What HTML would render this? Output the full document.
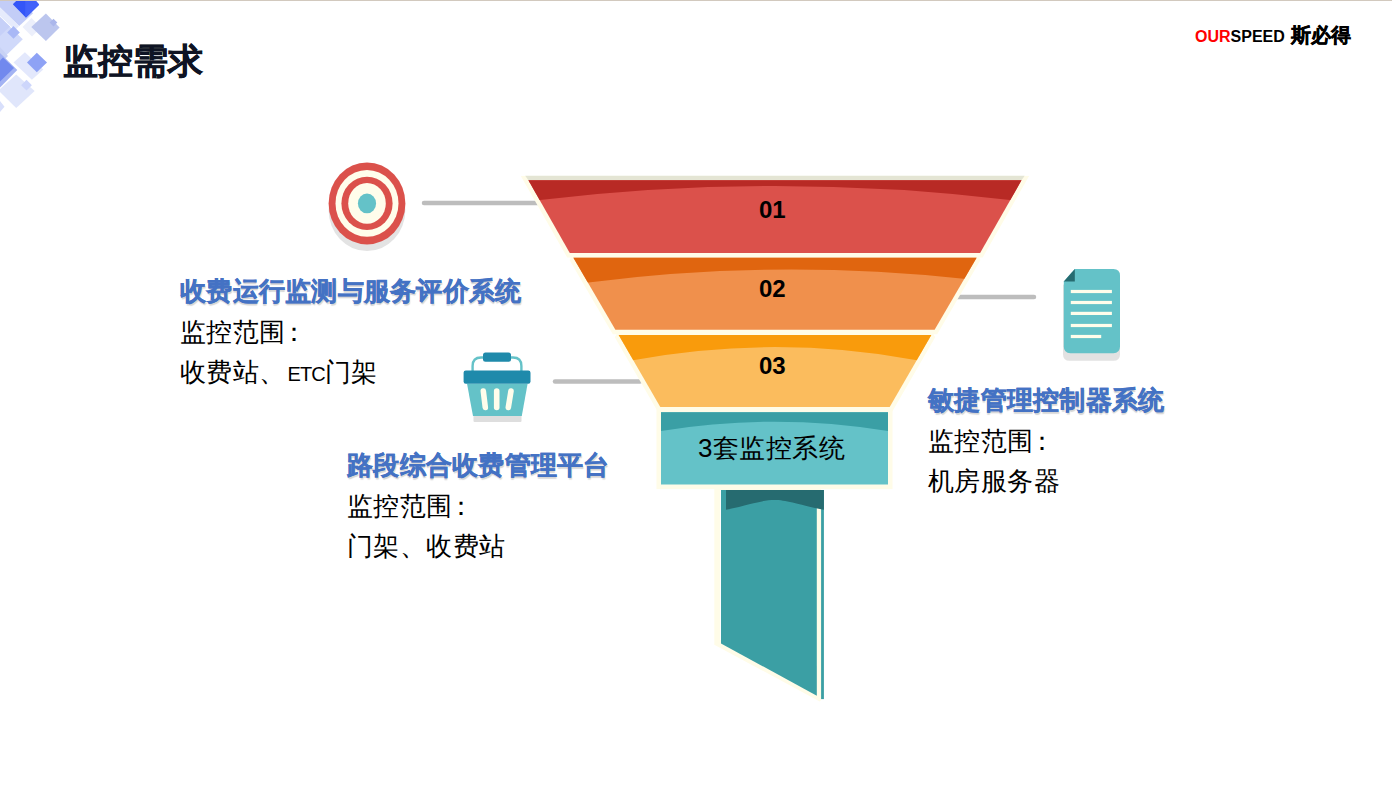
<!DOCTYPE html>
<html><head><meta charset="utf-8">
<style>
html,body{margin:0;padding:0;background:#fff;}
body{width:1392px;height:785px;position:relative;overflow:hidden;font-family:"Liberation Sans",sans-serif;}
.abs{position:absolute;white-space:nowrap;}
.topline{position:absolute;left:0;top:0;width:1392px;height:1px;background:#d2c9be;}
.title{left:63px;top:40px;font-size:35px;font-weight:bold;color:#0f1424;line-height:42px;-webkit-text-stroke:0.5px #0f1424;letter-spacing:0px;}
.logo{left:1195px;top:22px;font-size:16px;font-weight:bold;line-height:26px;color:#000;}
.logo .r{color:#f00;}
.logo .cn{font-size:20px;margin-left:2px;-webkit-text-stroke:0.4px #000;}
.h{font-size:26px;font-weight:bold;letter-spacing:0.25px;color:#4472c4;-webkit-text-stroke:0.35px #4472c4;text-shadow:0.5px 1.5px 1px rgba(0,0,0,0.17);line-height:30px;}
.t{font-size:26px;color:#000;line-height:30px;letter-spacing:0.4px;}
.num{font-size:24px;font-weight:bold;color:#000;line-height:28px;}
</style></head><body>

<svg class="abs" style="left:0;top:0" width="1392" height="785" viewBox="0 0 1392 785">
  <!-- decoration -->
  <g>
    <polygon points="0,0 20,0 33,13.2 19.2,26 0,7.5" fill="#c3cdf7"/>
    <polygon points="0,7.5 19.2,26 15,30 0,16" fill="#e6ebfc"/>
    <polygon points="0,17 22.8,39.3 4.5,57 0,57" fill="#d0d9fa"/>
    <polygon points="0,17 10,26.5 0,36" fill="#c6d0f8"/>
    <polygon points="13.8,4.3 25.8,16.6 38.1,4.6 35,1 17.2,1" fill="#3456f8" stroke="#3456f8" stroke-width="1.5" stroke-linejoin="round"/>
    <polygon points="26,10 25.8,16.6 38.1,4.6 35,1 26,1" fill="#4262fa" stroke="#4262fa" stroke-width="1.5" stroke-linejoin="round"/>
    <polygon points="22.5,27 31.5,18 41,27.5 32,36.5" fill="#eceffb"/>
    <polygon points="31.3,27.1 45.9,13.5 59.6,27.5 45.9,41" fill="#bcc6ee"/>
    <polygon points="49.7,22.6 53.5,18.8 57.3,22.6 53.5,26.4" fill="#abb7eb"/>
    <polygon points="7.2,32.4 13.5,26.1 19.8,32.4 13.5,38.7" fill="#a9b8f6"/>
    <polygon points="0,47 8,56 0,64" fill="#c8d2f5"/>
    <polygon points="13.5,62.5 24.9,52.2 43.3,69.5 31.9,79.8" fill="#e3e8fc"/>
    <polygon points="27,62.5 36.8,52.7 47,62.5 36.8,72.2" fill="#8ea2f5"/>
    <polygon points="0,53 17.3,70 0,87.4" fill="#a3b3f3"/>
    <polygon points="3,57.5 14,68 0,81.5 0,60.5" fill="#7189ee"/>
    <polygon points="16.2,74.4 34.6,91.1 16.2,108 0,92 0,89" fill="#e0e6fb"/>
    <polygon points="21.1,85.2 26.5,79.8 31.9,85.2 26.5,90.6" fill="#cdd6fb"/>
    <polygon points="0,101 4.5,106.8 0,112" fill="#d8dffb"/>
  </g>

  <!-- connector lines -->
  <line x1="424" y1="203" x2="540" y2="203" stroke="#bdbdbd" stroke-width="4.5" stroke-linecap="round"/>
  <line x1="950" y1="297" x2="1034" y2="297" stroke="#bdbdbd" stroke-width="4.5" stroke-linecap="round"/>
  <line x1="555" y1="381.4" x2="640" y2="381.4" stroke="#bdbdbd" stroke-width="4.5" stroke-linecap="round"/>

  <!-- funnel cream outline -->
  <g fill="#fffce8" stroke="#fffce8" stroke-width="9" stroke-linejoin="miter" stroke-miterlimit="2">
    <polygon points="528.4,180.3 1021.5,180.3 980.1,252.9 569.8,252.9"/>
    <polygon points="573.4,257.7 976.6,257.7 934.6,329.7 615.4,329.7"/>
    <polygon points="618.7,335.1 931.3,335.1 889.7,407 660.3,407"/>
    </g>
  <rect x="661" y="412.2" width="227" height="72.4" fill="#fffce8" stroke="#fffce8" stroke-width="9" stroke-linejoin="miter"/>
  <rect x="500" y="150" width="560" height="25.8" fill="#ffffff"/>
  <polygon points="525.2,175.8 1024.7,175.8 1021.5,180.3 528.4,180.3" fill="#e4e5d4"/>
  <!-- ribbon outline -->
  <polygon points="714.3,488.5 821.1,488.5 821.1,700 819.7,701.4 714.3,644.7" fill="#fffce8"/>
  <rect x="720" y="489.9" width="1" height="150" fill="#ffffff"/>

  <defs>
    <clipPath id="s1"><polygon points="528.4,180.3 1021.5,180.3 980.1,252.9 569.8,252.9"/></clipPath>
    <clipPath id="s2"><polygon points="573.4,257.7 976.6,257.7 934.6,329.7 615.4,329.7"/></clipPath>
    <clipPath id="s3"><polygon points="618.7,335.1 931.3,335.1 889.7,407 660.3,407"/></clipPath>
    <clipPath id="s4"><rect x="661" y="412.2" width="227" height="72.4"/></clipPath>
  </defs>
  <g clip-path="url(#s1)">
    <rect x="500" y="170" width="560" height="100" fill="#db514b"/>
    <path d="M500,170 H1060 V205 L1010,200 Q775,172 540,200 L500,205 Z" fill="#b82a25"/>
  </g>
  <g clip-path="url(#s2)">
    <rect x="500" y="250" width="560" height="100" fill="#f0904c"/>
    <path d="M500,250 H1060 V284 L963.6,278.7 Q775,258.6 588.4,282.4 L500,288 Z" fill="#e0650f"/>
  </g>
  <g clip-path="url(#s3)">
    <rect x="500" y="330" width="560" height="100" fill="#fbbc5d"/>
    <path d="M500,330 H1060 V364 L917,360.2 Q775,334 633,360.2 L500,364 Z" fill="#f99b0c"/>
  </g>
  <g clip-path="url(#s4)">
    <rect x="600" y="400" width="340" height="100" fill="#64c2c8"/>
    <path d="M600,400 H940 V432 L888,431 Q775,412.4 661,431 L600,432 Z" fill="#3a9fa5"/>
  </g>
  <!-- ribbon -->
  <polygon points="721,490 816.8,490 816.8,695.7 721,643.5" fill="#3b9fa4"/>
  <rect x="821.1" y="490" width="2.8" height="209.1" fill="#3b9fa4"/>
  <path d="M726,490 H823.9 V509.8 C795,503.5 786,499.9 774.4,499.9 C763,499.9 754,503.5 726,509.8 Z" fill="#266b70"/>

  <!-- target icon -->
  <g>
    <ellipse cx="367" cy="210" rx="38.4" ry="41" fill="#e3e3e3"/>
    <ellipse cx="367" cy="203.4" rx="38.4" ry="41" fill="#db514b"/>
    <ellipse cx="367" cy="203.4" rx="31.5" ry="33.4" fill="#fffdeb"/>
    <ellipse cx="367" cy="203.4" rx="25.6" ry="26.6" fill="#db514b"/>
    <ellipse cx="367" cy="203.4" rx="18.8" ry="20.4" fill="#fffdeb"/>
    <ellipse cx="367" cy="203.4" rx="9.1" ry="9.9" fill="#64c2c8"/>
  </g>

  <!-- basket icon -->
  <g>
    <rect x="473.5" y="410" width="48" height="12" rx="1" fill="#dedede"/>
    <path d="M472.6,371 V366 Q472.6,357.5 481,357.5 H513 Q521.4,357.5 521.4,366 V371" fill="none" stroke="#64c2c8" stroke-width="2.4"/>
    <rect x="483" y="352.6" width="28" height="9.2" rx="2.5" fill="#1f8aab"/>
    <polygon points="467,383.8 527.6,383.8 521.8,416.1 473,416.1" fill="#64c2c8"/>
    <rect x="463.6" y="370.6" width="66.9" height="13.2" rx="2.2" fill="#1f8aab"/>
    <line x1="483.3" y1="391" x2="485.3" y2="407.5" stroke="#fffdeb" stroke-width="5.6" stroke-linecap="round"/>
    <line x1="496.7" y1="391" x2="496.7" y2="407.5" stroke="#fffdeb" stroke-width="5.6" stroke-linecap="round"/>
    <line x1="511" y1="391" x2="508.3" y2="407.5" stroke="#fffdeb" stroke-width="5.6" stroke-linecap="round"/>
  </g>

  <!-- document icon -->
  <g>
    <path d="M1063,285 L1074.8,276 H1113.4 Q1120,276 1120,282.6 V354.2 Q1120,360.8 1113.4,360.8 H1069.6 Q1063,360.8 1063,354.2 Z" fill="#e2e2e2"/>
    <path d="M1063.8,281.4 L1074.8,268.9 H1113.4 Q1120,268.9 1120,275.5 V346.6 Q1120,353.2 1113.4,353.2 H1070.4 Q1063.8,353.2 1063.8,346.6 Z" fill="#64c2c8"/>
    <polygon points="1063.8,281.4 1074.8,268.9 1074.8,281.4" fill="#266b70"/>
    <rect x="1070.8" y="289.9" width="41.1" height="3.2" fill="#fffdeb"/>
    <rect x="1070.8" y="300.9" width="41.1" height="3.2" fill="#fffdeb"/>
    <rect x="1070.8" y="311.8" width="41.1" height="3.2" fill="#fffdeb"/>
    <rect x="1070.8" y="323.9" width="41.1" height="3.2" fill="#fffdeb"/>
    <rect x="1070.8" y="334.9" width="30.4" height="3.2" fill="#fffdeb"/>
  </g>
</svg>

<div class="topline"></div>
<div class="abs title">监控需求</div>
<div class="abs logo"><span class="r">OUR</span>SPEED <span class="cn">斯必得</span></div>

<div class="abs num" style="left:759px;top:196px">01</div>
<div class="abs num" style="left:759px;top:275px">02</div>
<div class="abs num" style="left:759px;top:352px">03</div>
<div class="abs t" style="left:698px;top:433px;letter-spacing:0.45px">3套监控系统</div>

<div class="abs h" style="left:180px;top:276px">收费运行监测与服务评价系统</div>
<div class="abs t" style="left:180px;top:317px">监控范围<span style="margin-left:-5px">：</span></div>
<div class="abs t" style="left:180px;top:357px">收费站、<span style="font-size:20px;letter-spacing:-1px;margin-left:2px">ETC</span>门架</div>

<div class="abs h" style="left:347px;top:450px">路段综合收费管理平台</div>
<div class="abs t" style="left:347px;top:491px">监控范围<span style="margin-left:-5px">：</span></div>
<div class="abs t" style="left:347px;top:531px">门架、收费站</div>

<div class="abs h" style="left:928px;top:385px">敏捷管理控制器系统</div>
<div class="abs t" style="left:928px;top:426px">监控范围<span style="margin-left:-5px">：</span></div>
<div class="abs t" style="left:928px;top:466px">机房服务器</div>
</body></html>
